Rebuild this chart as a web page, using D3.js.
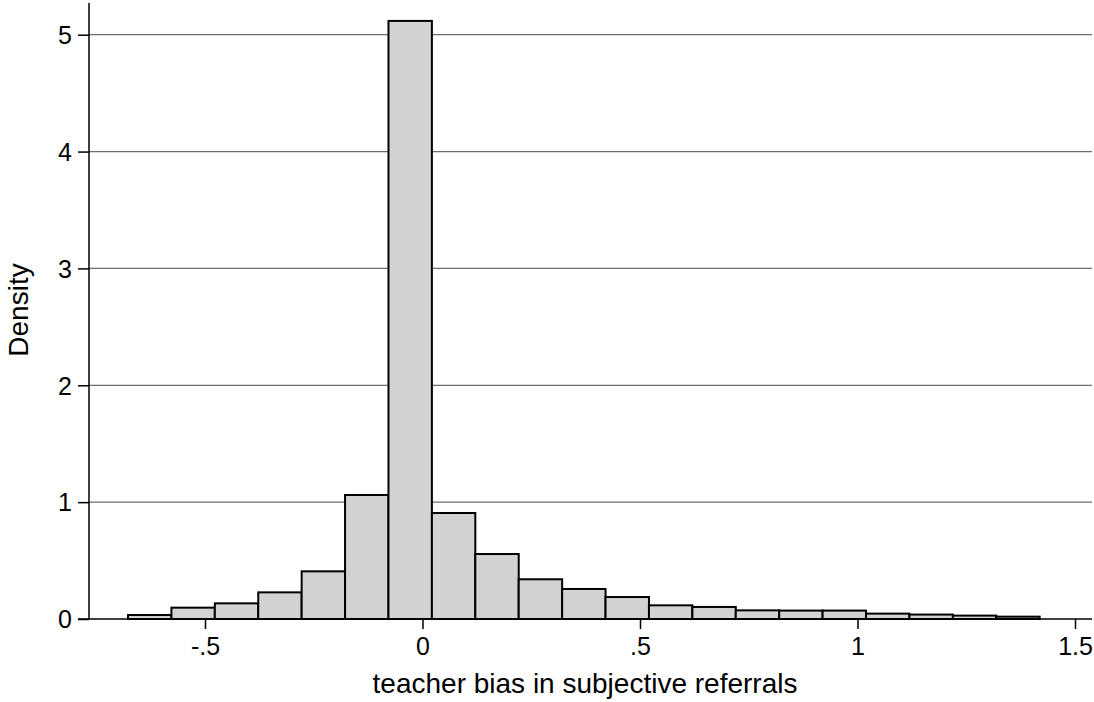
<!DOCTYPE html>
<html>
<head>
<meta charset="utf-8">
<script src="https://cdn.jsdelivr.net/npm/d3@7"></script>
<style>
  body { margin: 0; background: #fff; }
  svg { display: block; font-family: "Liberation Sans", Arial, sans-serif; }
</style>
</head>
<body>
<div id="wrapper"></div>
<script>
// histogram bins: left edge of first bin, bin width, density per bin
const binStart = -0.677;
const binWidth = 0.0998;
const densities = [
  0.034, 0.097, 0.134, 0.228, 0.408, 1.061, 5.118,
  0.907, 0.556, 0.340, 0.257, 0.188, 0.117, 0.103,
  0.074, 0.072, 0.072, 0.046, 0.038, 0.029, 0.020,
];
const xTicks = [-0.5, 0, 0.5, 1, 1.5];
const xTickLabels = ["-.5", "0", ".5", "1", "1.5"];
const yTicks = [0, 1, 2, 3, 4, 5];

function drawHistogram() {
  const dimensions = {
    width: 1094,
    height: 702,
    plotLeft: 89,
    plotRight: 1092,
    plotTop: 3,
    plotBottom: 619,
  }

  const bins = densities.map((d, i) => ({
    x0: binStart + i * binWidth,
    x1: binStart + (i + 1) * binWidth,
    density: d,
  }))

  const svg = d3.select("#wrapper")
    .append("svg")
      .attr("width", dimensions.width)
      .attr("height", dimensions.height)

  const xScale = d3.scaleLinear()
    .domain([-0.5, 1.5])
    .range([205, 1075])

  const yScale = d3.scaleLinear()
    .domain([0, 5])
    .range([dimensions.plotBottom, 34.7])

  // gridlines
  svg.append("g")
    .selectAll("line")
    .data(yTicks.filter(t => t > 0))
    .join("line")
      .attr("x1", dimensions.plotLeft)
      .attr("x2", dimensions.plotRight)
      .attr("y1", d => yScale(d))
      .attr("y2", d => yScale(d))
      .attr("stroke", "#6e6e6e")
      .attr("stroke-width", 1.3)

  // bars
  svg.append("g")
    .selectAll("rect")
    .data(bins)
    .join("rect")
      .attr("x", d => xScale(d.x0))
      .attr("width", d => xScale(d.x1) - xScale(d.x0))
      .attr("y", d => yScale(d.density))
      .attr("height", d => yScale(0) - yScale(d.density))
      .attr("fill", "#d2d2d2")
      .attr("stroke", "#000")
      .attr("stroke-width", 2)

  // y axis
  const yAxisGenerator = d3.axisLeft(yScale)
    .tickValues(yTicks)
    .tickFormat(d3.format("d"))
    .tickSize(11)
    .tickPadding(6)

  const yAxis = svg.append("g")
    .attr("transform", `translate(${dimensions.plotLeft},0)`)
    .call(yAxisGenerator)
  yAxis.select(".domain").remove()
  yAxis.append("line")
    .attr("y1", dimensions.plotTop)
    .attr("y2", dimensions.plotBottom)
    .attr("stroke", "#000")
    .attr("stroke-width", 1.5)
  yAxis.selectAll(".tick line").attr("stroke-width", 1.5)
  yAxis.selectAll(".tick text")
    .attr("fill", "#000")
    .style("font-size", "25px")
    .attr("dy", "0.35em")

  // x axis
  const xAxisGenerator = d3.axisBottom(xScale)
    .tickValues(xTicks)
    .tickFormat((d, i) => xTickLabels[i])
    .tickSize(10)
    .tickPadding(8)

  const xAxis = svg.append("g")
    .attr("transform", `translate(0,${dimensions.plotBottom})`)
    .call(xAxisGenerator)
  xAxis.select(".domain").remove()
  xAxis.append("line")
    .attr("x1", 78)
    .attr("x2", dimensions.plotRight)
    .attr("stroke", "#000")
    .attr("stroke-width", 1.5)
  xAxis.selectAll(".tick line").attr("stroke-width", 1.5)
  xAxis.selectAll(".tick text")
    .attr("fill", "#000")
    .style("font-size", "25px")

  // axis titles
  svg.append("text")
    .attr("x", 585)
    .attr("y", 693)
    .attr("text-anchor", "middle")
    .style("font-size", "28px")
    .text("teacher bias in subjective referrals")

  svg.append("text")
    .attr("transform", `translate(28,310) rotate(-90)`)
    .attr("text-anchor", "middle")
    .style("font-size", "28px")
    .text("Density")
}

drawHistogram();
</script>
</body>
</html>
